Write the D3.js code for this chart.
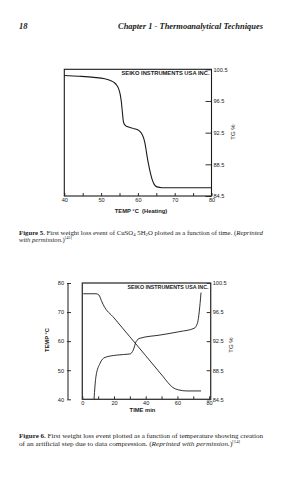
<!DOCTYPE html>
<html><head><meta charset="utf-8">
<script src="https://cdn.jsdelivr.net/npm/d3@7/dist/d3.min.js"></script>
<style>html,body{margin:0;padding:0;background:#fff;}svg{display:block;}</style>
</head><body>
<script>
// ---- Figure 5 data (TG % vs temperature) ----
const fig5Temp = [40, 44, 48, 51, 52.5, 53.5, 54.3, 54.8, 55.2, 55.5, 55.8, 56.1, 56.6, 57.5, 59, 60.3, 61.0, 61.5, 61.9, 62.2, 62.5, 62.9, 63.3, 63.8, 64.4, 65.2, 66.5, 70, 75, 80];
const fig5TG   = [99.72, 99.62, 99.48, 99.3, 99.1, 98.85, 98.45, 98.0, 97.3, 96.4, 95.0, 93.8, 93.4, 93.2, 93.0, 92.75, 92.4, 91.9, 91.2, 90.4, 89.5, 88.5, 87.6, 86.7, 86.0, 85.65, 85.55, 85.55, 85.55, 85.55];
const fig5XTicks = [40, 45, 50, 55, 60, 65, 70, 75, 80];
const fig5XLabels = [40, 50, 60, 70, 80];
const fig5YTicks = [100.5, 96.5, 92.5, 88.5, 84.5];

// ---- Figure 6 data (vs time) ----
const fig6TGTime = [0.6, 8.6, 10.5, 12, 13.25, 20, 30, 40, 48, 51.1, 54, 57, 60.6, 65.9, 74.9];
const fig6TG     = [99.02, 99.02, 98.85, 98.1, 97.5, 95.7, 93.1, 90.5, 88.4, 87.6, 86.8, 86.15, 85.8, 85.65, 85.65];
const fig6TempTime = [7.4, 8.6, 11.2, 14.3, 21.7, 30.1, 32.2, 33.9, 36.4, 49, 61.6, 70.5, 72.6, 74.3, 74.9];
const fig6Temp     = [40, 47.8, 52.4, 54.4, 55.2, 55.6, 57, 59.8, 61, 62.1, 63.3, 64.4, 66.1, 73, 76.7];
const fig6XTicks = [0, 10, 20, 30, 40, 50, 60, 70, 80];
const fig6XLabels = [0, 20, 40, 60, 80];
const fig6LeftTicks = [40, 50, 60, 70, 80];
const fig6RightTicks = [100.5, 96.5, 92.5, 88.5, 84.5];

const W = 283, H = 480;
const svg = d3.select("body").append("svg").attr("width", W).attr("height", H);
svg.append("rect").attr("width", W).attr("height", H).attr("fill", "#fff");

const sans = "'Liberation Sans', Arial, sans-serif";
const serif = "'Liberation Serif', 'Times New Roman', serif";
const ink = "#1a1a1a";

// Header
svg.append("text").attr("x", 19).attr("y", 29).attr("font-family", serif).attr("font-size", 8.5)
  .attr("font-style", "italic").attr("font-weight", "bold").attr("fill", ink).text("18");
svg.append("text").attr("x", 118).attr("y", 29).attr("font-family", serif).attr("font-size", 8.5)
  .attr("font-style", "italic").attr("font-weight", "bold").attr("fill", ink)
  .attr("textLength", 145).attr("lengthAdjust", "spacingAndGlyphs")
  .text("Chapter 1 - Thermoanalytical Techniques");

function styleAxis(g) {
  g.select(".domain").remove();
  g.selectAll("line").attr("stroke", ink).attr("stroke-width", 0.9);
  g.selectAll("text").attr("font-family", sans).attr("font-size", 5.6).attr("fill", ink);
}

// ================= Figure 5 =================
{
  const x = d3.scaleLinear([40, 80], [64.3, 211.5]);
  const y = d3.scaleLinear([84.5, 100.5], [196, 69.3]);
  const g = svg.append("g");
  g.append("g").attr("transform", "translate(0,196)")
    .call(d3.axisBottom(x).tickValues(fig5XTicks).tickSize(-3).tickFormat(""))
    .call(styleAxis);
  g.append("g").attr("transform", "translate(0,196)")
    .call(d3.axisBottom(x).tickValues(fig5XLabels).tickSize(0).tickPadding(2.5).tickFormat(d3.format("d")))
    .call(styleAxis).call(a => a.selectAll("line").remove());
  g.append("g").attr("transform", "translate(211.5,0)")
    .call(d3.axisRight(y).tickValues(fig5YTicks).tickSize(-6).tickPadding(2).tickFormat(d3.format(".1f")))
    .call(styleAxis);
  g.append("rect").attr("x", x(40)).attr("y", y(100.5)).attr("width", x(80) - x(40)).attr("height", y(84.5) - y(100.5))
    .attr("fill", "none").attr("stroke", ink).attr("stroke-width", 1.1);
  const line = d3.line().x((d, i) => x(fig5Temp[i])).y(d => y(d)).curve(d3.curveMonotoneX);
  g.append("path").attr("d", line(fig5TG)).attr("fill", "none").attr("stroke", ink).attr("stroke-width", 1.1);
  g.append("text").attr("x", 209.5).attr("y", 74.5).attr("text-anchor", "end").attr("font-family", sans)
    .attr("font-size", 5.6).attr("font-weight", "bold").attr("fill", ink)
    .attr("textLength", 88).attr("lengthAdjust", "spacingAndGlyphs").text("SEIKO INSTRUMENTS USA INC.");
  g.append("text").attr("transform", "translate(235,132) rotate(-90)").attr("text-anchor", "middle")
    .attr("font-family", sans).attr("font-size", 6).attr("fill", ink).text("TG %");
  g.append("text").attr("x", 141).attr("y", 213).attr("text-anchor", "middle")
    .attr("font-family", sans).attr("font-size", 5.8).attr("font-weight", "bold").attr("fill", ink)
    .attr("xml:space", "preserve").text("TEMP °C  (Heating)");
}

function caption(yPos, parts, len) {
  const t = svg.append("text").attr("x", 19).attr("y", yPos).attr("font-family", serif)
    .attr("font-size", 6.6).attr("fill", "#222");
  if (len) t.attr("textLength", len).attr("lengthAdjust", "spacingAndGlyphs");
  parts.forEach(p => {
    const s = t.append("tspan").text(p.t);
    if (p.b) s.attr("font-weight", "bold");
    if (p.i) s.attr("font-style", "italic");
    if (p.sub) s.attr("font-size", 4.6).attr("dy", 1.5);
    if (p.sup) s.attr("font-size", 4.2).attr("dy", -2.8);
    if (p.back) s.attr("dy", p.back);
  });
}
caption(234.5, [
  {t: "Figure 5.", b: true}, {t: " First weight loss event of CuSO"}, {t: "4", sub: true},
  {t: " 5H", back: -1.5}, {t: "2", sub: true}, {t: "O plotted as a function of time. (", back: -1.5},
  {t: "Reprinted", i: true}], 244);
caption(242, [{t: "with permission.", i: true}, {t: ")"}, {t: "[43]", sup: true}]);

// ================= Figure 6 =================
{
  const x = d3.scaleLinear([0, 81], [82.3, 210.7]);
  const yL = d3.scaleLinear([40, 80], [399.3, 283]);
  const yR = d3.scaleLinear([84.5, 100.5], [399.3, 283]);
  const g = svg.append("g");
  const clipId = "clip6";
  g.append("clipPath").attr("id", clipId).append("rect")
    .attr("x", 82.3).attr("y", 283).attr("width", 210.7 - 82.3).attr("height", 399.3 - 283);
  g.append("g").attr("transform", "translate(0,399.3)")
    .call(d3.axisBottom(x).tickValues(fig6XTicks).tickSize(-3).tickFormat(""))
    .call(styleAxis);
  g.append("g").attr("transform", "translate(0,399.3)")
    .call(d3.axisBottom(x).tickValues(fig6XLabels).tickSize(0).tickPadding(2.2).tickFormat(d3.format("d")))
    .call(styleAxis).call(a => a.selectAll("line").remove());
  const la = g.append("g").attr("transform", "translate(68,0)")
    .call(d3.axisLeft(yL).tickValues(fig6LeftTicks).tickSize(-3).tickPadding(4).tickFormat(d3.format("d")))
    .call(styleAxis);
  la.selectAll("line").attr("x1", -1);
  g.append("line").attr("x1", 68).attr("x2", 68).attr("y1", yL(80)).attr("y2", yL(40))
    .attr("stroke", ink).attr("stroke-width", 1);
  g.append("g").attr("transform", "translate(210.7,0)")
    .call(d3.axisRight(yR).tickValues(fig6RightTicks).tickSize(-4).tickPadding(2).tickFormat(d3.format(".1f")))
    .call(styleAxis);
  g.append("rect").attr("x", 82.3).attr("y", 283).attr("width", 210.7 - 82.3).attr("height", 399.3 - 283)
    .attr("fill", "none").attr("stroke", "#333").attr("stroke-width", 1.3);
  const lineTG = d3.line().x((d, i) => x(fig6TGTime[i])).y(d => yR(d)).curve(d3.curveMonotoneX);
  g.append("path").attr("d", lineTG(fig6TG)).attr("fill", "none").attr("stroke", ink).attr("stroke-width", 0.9)
    .attr("clip-path", `url(#${clipId})`);
  const lineT = d3.line().x((d, i) => x(fig6TempTime[i])).y(d => yL(d)).curve(d3.curveMonotoneX);
  g.append("path").attr("d", lineT(fig6Temp)).attr("fill", "none").attr("stroke", ink).attr("stroke-width", 0.9)
    .attr("clip-path", `url(#${clipId})`);
  g.append("text").attr("x", 208.5).attr("y", 288.5).attr("text-anchor", "end").attr("font-family", sans)
    .attr("font-size", 5.6).attr("font-weight", "bold").attr("fill", ink)
    .attr("textLength", 81).attr("lengthAdjust", "spacingAndGlyphs").text("SEIKO INSTRUMENTS USA INC.");
  g.append("text").attr("transform", "translate(233,345) rotate(-90)").attr("text-anchor", "middle")
    .attr("font-family", sans).attr("font-size", 6).attr("fill", ink).text("TG %");
  g.append("text").attr("transform", "translate(49,340) rotate(-90)").attr("text-anchor", "middle")
    .attr("font-family", sans).attr("font-size", 5.8).attr("font-weight", "bold").attr("fill", ink).text("TEMP °C");
  g.append("text").attr("x", 142.5).attr("y", 411.5).attr("text-anchor", "middle")
    .attr("font-family", sans).attr("font-size", 5.8).attr("font-weight", "bold").attr("fill", ink).text("TIME min");
}

caption(437.5, [
  {t: "Figure 6.", b: true}, {t: " First weight loss event plotted as a function of temperature showing creation"}], 244);
caption(445.5, [
  {t: "of an artificial step due to data compression. ("}, {t: "Reprinted with permission.", i: true},
  {t: ")"}, {t: "[14]", sup: true}], 221);
</script>
</body></html>
